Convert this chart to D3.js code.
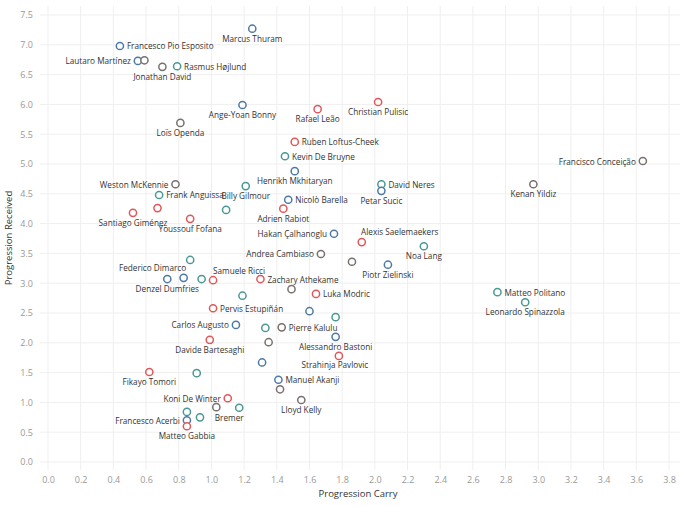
<!DOCTYPE html>
<html><head><meta charset="utf-8">
<script src="https://cdn.jsdelivr.net/npm/d3@7"></script>
<style>body{margin:0;background:#fff}text{font-family:"Open Sans",sans-serif}</style>
</head><body><div id="chart"></div>
<script>
const players = ["Marcus Thuram","Francesco Pio Esposito","Lautaro Martínez","","Jonathan David","Rasmus Højlund","Ange-Yoan Bonny","Rafael Leão","Christian Pulisic","Loïs Openda","Ruben Loftus-Cheek","Kevin De Bruyne","Henrikh Mkhitaryan","Weston McKennie","David Neres","Petar Sucic","Francisco Conceição","Kenan Yildiz","Frank Anguissa","Billy Gilmour","Nicolò Barella","","Adrien Rabiot","Santiago Giménez","","Youssouf Fofana","Hakan Çalhanoglu","Alexis Saelemaekers","Noa Lang","Andrea Cambiaso","","Piotr Zielinski","Federico Dimarco","Denzel Dumfries","","","Samuele Ricci","Zachary Athekame","","Luka Modric","","Pervis Estupiñán","","","Carlos Augusto","","Pierre Kalulu","Alessandro Bastoni","Davide Bartesaghi","","Strahinja Pavlovic","","Fikayo Tomori","","Manuel Akanji","","Lloyd Kelly","Koni De Winter","","Bremer","","","Francesco Acerbi","Matteo Gabbia","Matteo Politano","Leonardo Spinazzola"];
const carry = [1.25,0.44,0.55,0.59,0.70,0.79,1.19,1.65,2.02,0.81,1.51,1.45,1.51,0.78,2.04,2.04,3.64,2.97,0.68,1.21,1.47,1.09,1.44,0.52,0.67,0.87,1.75,1.92,2.30,1.67,1.86,2.08,0.87,0.73,0.83,0.94,1.01,1.30,1.49,1.64,1.19,1.01,1.60,1.76,1.15,1.33,1.43,1.76,0.99,1.35,1.78,1.31,0.62,0.91,1.41,1.42,1.55,1.10,1.03,1.17,0.85,0.93,0.85,0.85,2.75,2.92];
const received = [7.27,6.98,6.73,6.74,6.63,6.64,5.99,5.92,6.04,5.69,5.37,5.13,4.88,4.66,4.66,4.55,5.05,4.66,4.48,4.63,4.40,4.23,4.25,4.18,4.26,4.08,3.83,3.69,3.62,3.49,3.36,3.31,3.39,3.07,3.09,3.07,3.05,3.07,2.90,2.82,2.79,2.58,2.53,2.43,2.30,2.25,2.26,2.10,2.05,2.01,1.78,1.67,1.51,1.49,1.38,1.22,1.04,1.07,0.92,0.91,0.84,0.75,0.70,0.60,2.85,2.68];
const group = ["b","b","b","g","g","t","b","r","r","g","r","t","b","g","t","b","g","g","t","t","b","t","r","r","r","r","b","r","t","g","g","b","t","b","b","t","r","r","g","r","t","r","b","t","b","t","g","b","r","g","r","b","r","t","b","g","g","r","g","t","t","t","b","r","t","t"];
const labelPos = ["b","r","l","","b","r","b","b","b","b","r","r","b","l","r","b","l","b","r","b","r","","b","b","","b","l","ar","b","l","","b","dl","b","","","ra","r","","r","","r","","","l","","r","b","b","","bl","","b","","r","","b","l","","bb","","","l","b","r","b"];
const xTicks = d3.range(0, 3.81, 0.2);
const yTicks = d3.range(0, 7.51, 0.5);

const colors = {b:"#4e79a7", r:"#e15759", t:"#499894", g:"#79706e"};
const W = 680, H = 506;
const x = d3.scaleLinear().domain([0,3.8]).range([48,669]);
const y = d3.scaleLinear().domain([0,7.5]).range([462,15]);
const svg = d3.select("#chart").append("svg").attr("width",W).attr("height",H);

//grid
svg.selectAll(".xg").data(xTicks).join("line")
  .attr("x1",d=>x(d)).attr("x2",d=>x(d)).attr("y1",6).attr("y2",470)
  .attr("stroke","#efefef");
svg.selectAll(".yg").data(yTicks).join("line")
  .attr("x1",40).attr("x2",680).attr("y1",d=>y(d)).attr("y2",d=>y(d))
  .attr("stroke","#efefef");

//axes
svg.append("g").attr("transform","translate(0,472)")
  .call(d3.axisBottom(x).tickValues(xTicks).tickFormat(d3.format(".1f")).tickSize(0))
  .call(g=>g.select(".domain").remove())
  .selectAll("text").attr("fill","#999").style("font-size","9px").attr("dy","0.9em");
svg.append("g").attr("transform","translate(36,0)")
  .call(d3.axisLeft(y).tickValues(yTicks).tickFormat(d3.format(".1f")).tickSize(0))
  .call(g=>g.select(".domain").remove())
  .selectAll("text").attr("fill","#999").style("font-size","9px");

svg.append("text").attr("x",358).attr("y",497).attr("text-anchor","middle")
  .style("font-size","9.5px").attr("fill","#333").text("Progression Carry");
svg.append("text").attr("transform","translate(12,238) rotate(-90)").attr("text-anchor","middle")
  .style("font-size","9.5px").attr("fill","#333").text("Progression Received");

const idx = d3.range(players.length);
svg.selectAll(".pt").data(idx).join("circle")
  .attr("cx",i=>x(carry[i])).attr("cy",i=>y(received[i])).attr("r",3.6)
  .attr("fill","#fff").attr("stroke",i=>colors[group[i]]).attr("stroke-width",1.5);

const off = {r:[7,3.5,"start"], l:[-7,3.5,"end"], b:[0,13,"middle"], a:[0,-7,"middle"],
  ar:[38,-7,"middle"], bl:[-4,12,"middle"], dl:[-4,11,"end"], ra:[26,-6,"middle"], bb:[-10,13,"middle"]};
svg.selectAll(".lb").data(idx.filter(i=>players[i])).join("text")
  .attr("x",i=>x(carry[i])+off[labelPos[i]][0])
  .attr("y",i=>y(received[i])+off[labelPos[i]][1])
  .attr("text-anchor",i=>off[labelPos[i]][2])
  .style("font-size","8.2px").attr("fill","#333").text(i=>players[i]);
</script></body></html>
